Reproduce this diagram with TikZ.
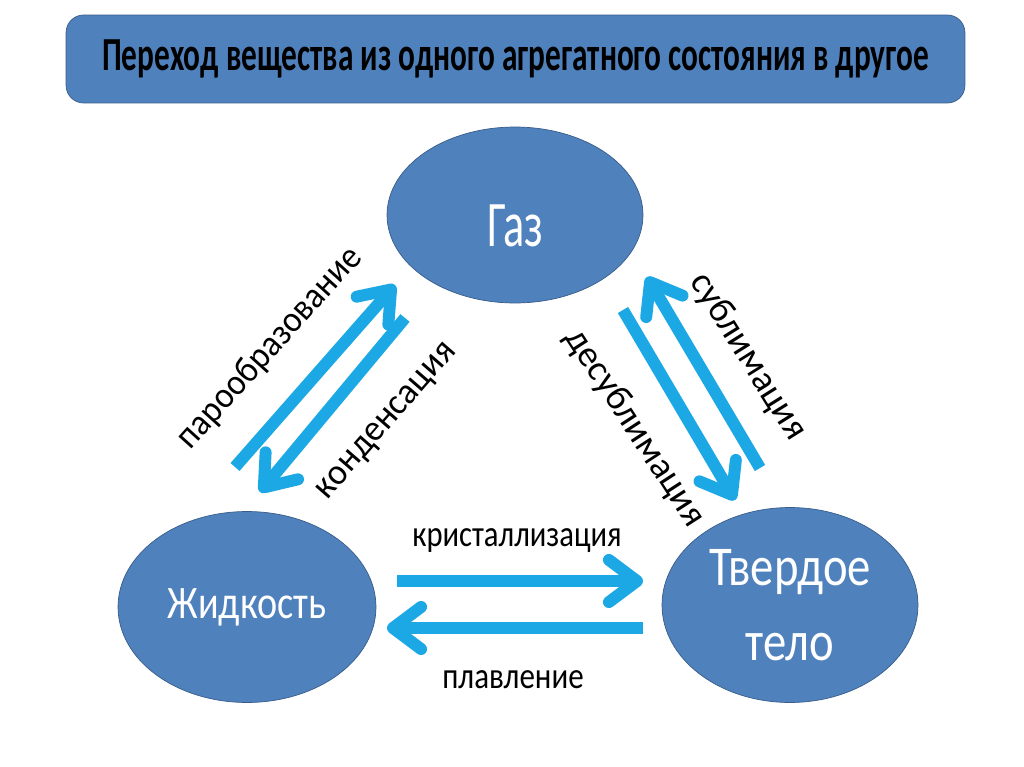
\documentclass[tikz,border=0pt]{standalone}
\usepackage{fontspec}
\setmainfont{Carlito}
\usetikzlibrary{arrows.meta,shapes.geometric}
\definecolor{stateblue}{RGB}{79,129,189}
\definecolor{stateedge}{RGB}{56,93,138}
\definecolor{flowblue}{RGB}{28,168,228}
\newcommand{\squeezetext}[2]{\scalebox{#1}[1]{#2}}

\tikzset{
  state/.style={ellipse,draw=stateedge,fill=stateblue,text=white,inner sep=0pt,align=center},
  flow/.style={line width=6.8pt,flowblue,-{Straight Barb[length=16pt,width=24pt,round]}},
  lbl/.style={font=\fontsize{21}{25}\selectfont,inner sep=0pt}
}

\begin{document}
\begin{tikzpicture}[x=0.02cm,y=-0.02cm]
  \fill[white] (0,0) rectangle (1024,767);
  % Title
  \node[draw=stateedge,fill=stateblue,rounded corners=10pt,minimum width=17.98cm,minimum height=1.76cm,
        font=\fontsize{27}{30}\selectfont\bfseries] (title) at (515.5,59)
        {\squeezetext{0.66}{Переход вещества из одного агрегатного состояния в другое}};
  % States
  \node[state,minimum width=5.12cm,minimum height=3.52cm,font=\fontsize{37}{40}\selectfont] (gas) at (515,215)
        {\raisebox{0pt}[36pt][0pt]{\squeezetext{0.68}{Газ}}};
  \node[state,minimum width=5.16cm,minimum height=3.82cm,font=\fontsize{26.5}{30}\selectfont] (liquid) at (247,607)
        {\squeezetext{0.82}{Жидкость}};
  \node[state,minimum width=5.12cm,minimum height=3.9cm,font=\fontsize{32}{43}\selectfont] (solid) at (790,605)
        {\squeezetext{0.83}{Твердое}\\\squeezetext{0.83}{тело}};
  % Arrow ends
  \coordinate (evapA) at (235,467);
  \coordinate (evapB) at (395,285);
  \coordinate (condA) at (405,318);
  \coordinate (condB) at (260,492);
  \coordinate (sublA) at (760,468);
  \coordinate (sublB) at (647,277);
  \coordinate (desA) at (623,310);
  \coordinate (desB) at (735,500);
  \coordinate (crysA) at (397,581);
  \coordinate (crysB) at (643,581);
  \coordinate (meltA) at (643,628);
  \coordinate (meltB) at (387,628);
  % Arrows
  \draw[flow] (evapA) -- (evapB);
  \draw[flow] (condA) -- (condB);
  \draw[flow] (sublA) -- (sublB);
  \draw[flow] (desA) -- (desB);
  \draw[flow] (crysA) -- (crysB);
  \draw[flow] (meltA) -- (meltB);
  % Labels
  \node[lbl,rotate=48] (evap) at (270,348) {\squeezetext{0.92}{парообразование}};
  \node[lbl,rotate=49] (cond) at (388,422) {\squeezetext{0.96}{конденсация}};
  \node[lbl,rotate=-58] (subl) at (748,357) {сублимация};
  \node[lbl,rotate=-57] (desubl) at (635,428) {десублимация};
  \node[lbl] (crys) at (517,541) {\squeezetext{0.83}{кристаллизация}};
  \node[lbl] (melt) at (513,680) {\squeezetext{0.84}{плавление}};
\end{tikzpicture}
\end{document}
